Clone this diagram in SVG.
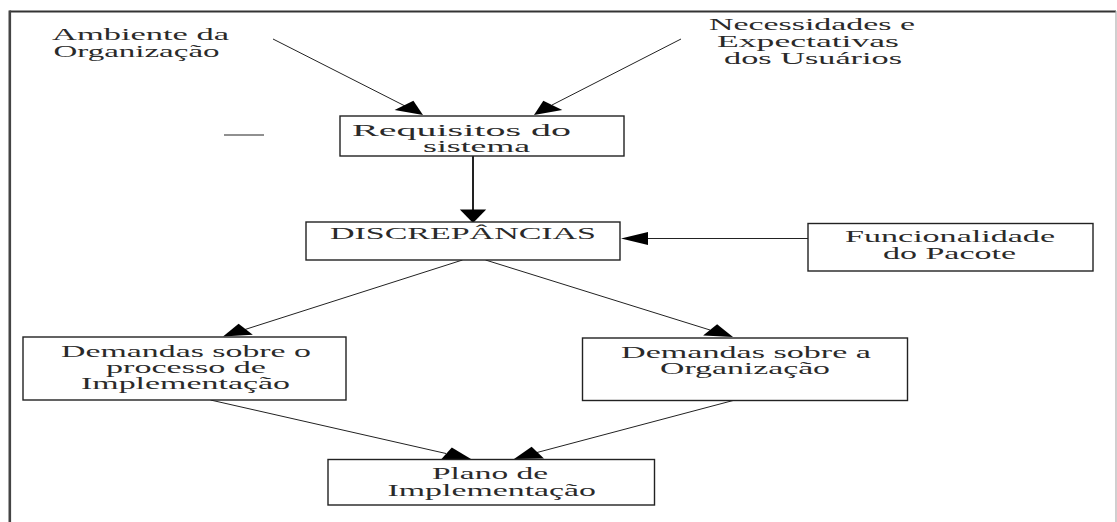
<svg xmlns="http://www.w3.org/2000/svg" width="1117" height="522" viewBox="0 0 1117 522">
<style>
.t{font-family:"Liberation Serif","Times New Roman",serif;font-size:16px;fill:#2a2a2a}
.box{fill:#fff;stroke:#222;stroke-width:1.4}
.ln{stroke:#222;stroke-width:1;fill:none}
.ah{fill:#000;stroke:none}
</style>
<rect width="1117" height="522" fill="#fff"/>
<g id="frame">
<line x1="9.5" y1="11.5" x2="1116" y2="11.5" stroke="#333" stroke-width="2"/>
<line x1="9.8" y1="10.5" x2="9.8" y2="522" stroke="#444" stroke-width="2.6"/>
<line x1="1116" y1="11" x2="1116" y2="522" stroke="#b0b0b0" stroke-width="1.2"/>
</g>
<g id="connectors">
<line class="ln" x1="273" y1="39" x2="405" y2="106"/>
<polygon class="ah" points="423,115 394.6,110 413.4,100.8"/>
<line class="ln" x1="681" y1="39" x2="552" y2="105"/>
<polygon class="ah" points="534,115 543.3,100.7 562.3,109.9"/>
<line x1="224" y1="135" x2="264" y2="135" stroke="#222" stroke-width="1.2"/>
<line x1="473" y1="156" x2="473" y2="210" stroke="#222" stroke-width="2"/>
<polygon class="ah" points="473,223 459.8,209.5 486.2,209.5"/>
<line class="ln" x1="808" y1="238.5" x2="646" y2="238.5"/>
<polygon class="ah" points="621,238.5 648,231.9 648,245.1"/>
<line class="ln" x1="462.5" y1="260" x2="245" y2="329.5"/>
<polygon class="ah" points="223,336.5 238.6,323.7 252.8,334.8"/>
<line class="ln" x1="485.5" y1="260" x2="710" y2="330"/>
<polygon class="ah" points="733,337 703.1,335.4 717.1,324.2"/>
<line class="ln" x1="210.5" y1="400" x2="446" y2="453.5"/>
<polygon class="ah" points="471,459 441,459.4 451.8,447.4"/>
<line class="ln" x1="735" y1="400" x2="537" y2="452.5"/>
<polygon class="ah" points="514,459 531.6,446.8 544,458.5"/>
</g>
<g id="ambiente">
<text class="t" x="52" y="40" textLength="177" lengthAdjust="spacingAndGlyphs">Ambiente da</text>
<text class="t" x="53.5" y="57" textLength="166" lengthAdjust="spacingAndGlyphs">Organização</text>
</g>
<g id="necessidades">
<text class="t" x="709" y="30" textLength="206" lengthAdjust="spacingAndGlyphs">Necessidades e</text>
<text class="t" x="717" y="47" textLength="182" lengthAdjust="spacingAndGlyphs">Expectativas</text>
<text class="t" x="724" y="63.5" textLength="178" lengthAdjust="spacingAndGlyphs">dos Usuários</text>
</g>
<g id="requisitos">
<rect class="box" x="340" y="116" width="284" height="40"/>
<text class="t" x="352" y="135.5" textLength="219" lengthAdjust="spacingAndGlyphs">Requisitos do</text>
<text class="t" x="423" y="152" textLength="107" lengthAdjust="spacingAndGlyphs">sistema</text>
</g>
<g id="discrepancias">
<rect class="box" x="306" y="222" width="314" height="38"/>
<text class="t" x="330" y="239" textLength="266" lengthAdjust="spacingAndGlyphs">DISCREPÂNCIAS</text>
</g>
<g id="funcionalidade">
<rect class="box" x="808" y="223.5" width="285" height="47.5"/>
<text class="t" x="845" y="242" textLength="210" lengthAdjust="spacingAndGlyphs">Funcionalidade</text>
<text class="t" x="883" y="258.5" textLength="133" lengthAdjust="spacingAndGlyphs">do Pacote</text>
</g>
<g id="demandas-processo">
<rect class="box" x="23" y="337" width="323" height="63"/>
<text class="t" x="61" y="356.5" textLength="250" lengthAdjust="spacingAndGlyphs">Demandas sobre o</text>
<text class="t" x="106" y="372.5" textLength="160" lengthAdjust="spacingAndGlyphs">processo de</text>
<text class="t" x="81" y="389" textLength="209" lengthAdjust="spacingAndGlyphs">Implementação</text>
</g>
<g id="demandas-organizacao">
<rect class="box" x="582.5" y="338" width="325" height="62.5"/>
<text class="t" x="621" y="357.5" textLength="250" lengthAdjust="spacingAndGlyphs">Demandas sobre a</text>
<text class="t" x="660" y="373.5" textLength="170" lengthAdjust="spacingAndGlyphs">Organização</text>
</g>
<g id="plano">
<rect class="box" x="328" y="459.5" width="326.5" height="45.5"/>
<text class="t" x="432" y="479" textLength="116" lengthAdjust="spacingAndGlyphs">Plano de</text>
<text class="t" x="387.5" y="495.5" textLength="208.5" lengthAdjust="spacingAndGlyphs">Implementação</text>
</g>
</svg>
